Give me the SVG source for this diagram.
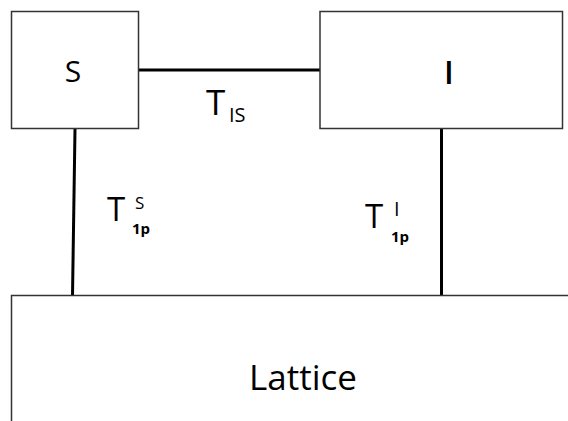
<svg xmlns="http://www.w3.org/2000/svg" width="568" height="421" viewBox="0 0 568 421">
<style>
.box{fill:#fff;stroke:#333;stroke-width:1.5}
.ln{stroke:#000;stroke-width:3;fill:none}
text{font-family:"Open Sans","Liberation Sans",Arial,sans-serif;fill:#000}
</style>
<rect width="568" height="421" fill="#fff"/>
<g id="connectors">
<line class="ln" x1="138" y1="70" x2="320" y2="70"/>
<line class="ln" x1="75" y1="129" x2="72.5" y2="296"/>
<line class="ln" x1="441.5" y1="129" x2="441.5" y2="296"/>
</g>
<g id="S">
<rect class="box" x="11.5" y="11.5" width="127" height="117"/>
<text x="73" y="82" font-size="30" text-anchor="middle">S</text>
</g>
<g id="I">
<rect class="box" x="320" y="11.5" width="242.5" height="117"/>
<text x="449" y="84" font-size="32" text-anchor="middle" font-weight="600">I</text>
</g>
<g id="Lattice">
<rect class="box" x="11.5" y="295.5" width="580" height="140"/>
<text x="303" y="390" font-size="35" text-anchor="middle">Lattice</text>
</g>
<g id="labels">
<text x="206" y="115" font-size="35">T</text>
<text x="229" y="122" font-size="20">IS</text>
<text x="107" y="221" font-size="33">T</text>
<text x="135" y="209" font-size="17">S</text>
<text x="132" y="234" font-size="15" font-weight="bold">1p</text>
<text x="365" y="228" font-size="33">T</text>
<text x="394" y="216" font-size="20">I</text>
<text x="391" y="242" font-size="15" font-weight="bold">1p</text>
</g>
</svg>
